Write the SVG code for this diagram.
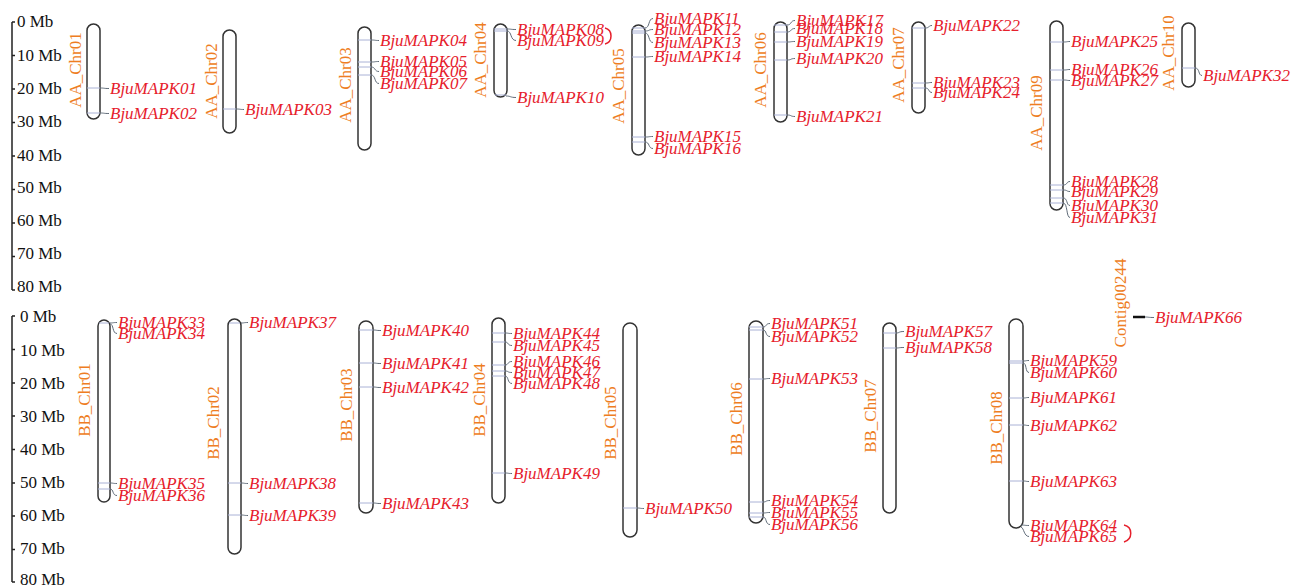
<svg xmlns="http://www.w3.org/2000/svg" width="1292" height="588" viewBox="0 0 1292 588">
<style>
.chr{fill:#fff;stroke:#333;stroke-width:1.5}
.band{stroke:#aab2d6;stroke-width:1}
.cl{font-family:"Liberation Serif",serif;font-size:17px;fill:#EE7D22;text-anchor:middle}
.g{font-family:"Liberation Serif",serif;font-style:italic;font-size:17px;fill:#E6202C}
.ax{font-family:"Liberation Serif",serif;font-size:17px;fill:#111}
.axl{stroke:#222;stroke-width:1.5;fill:none}
.cn{fill:none;stroke:#5f6b78;stroke-width:1}
.br{fill:none;stroke:#E6202C;stroke-width:1.5}
</style>
<rect width="1292" height="588" fill="#fff"/>
<g id="scale-top">
<path class="axl" d="M12,22V290M12,22h3M12,55.5h3M12,89h3M12,122.5h3M12,156h3M12,189.5h3M12,223h3M12,256.5h3M12,290h3"/>
<text class="ax" x="17" y="27">0 Mb</text>
<text class="ax" x="17" y="61">10 Mb</text>
<text class="ax" x="17" y="94">20 Mb</text>
<text class="ax" x="17" y="127">30 Mb</text>
<text class="ax" x="17" y="161">40 Mb</text>
<text class="ax" x="17" y="193">50 Mb</text>
<text class="ax" x="17" y="226">60 Mb</text>
<text class="ax" x="17" y="259">70 Mb</text>
<text class="ax" x="17" y="292">80 Mb</text>
</g>
<g id="scale-bottom">
<path class="axl" d="M12,316V582M12,316h3M12,349.5h3M12,383h3M12,416h3M12,449.5h3M12,483h3M12,516h3M12,549.5h3M12,582h3"/>
<text class="ax" x="20" y="322">0 Mb</text>
<text class="ax" x="20" y="356">10 Mb</text>
<text class="ax" x="20" y="389">20 Mb</text>
<text class="ax" x="20" y="422">30 Mb</text>
<text class="ax" x="20" y="455">40 Mb</text>
<text class="ax" x="20" y="488">50 Mb</text>
<text class="ax" x="20" y="521">60 Mb</text>
<text class="ax" x="20" y="554">70 Mb</text>
<text class="ax" x="20" y="585">80 Mb</text>
</g>

<g id="AA_Chr01"><rect class="chr" x="87" y="24" width="13" height="95" rx="6.5"/>
<path class="band" d="M87,88h13M87,113h13"/>
<text class="cl" transform="translate(81,70) rotate(-90)">AA_Chr01</text></g>
<g id="AA_Chr02"><rect class="chr" x="223" y="30" width="13" height="103" rx="6.5"/>
<path class="band" d="M223,109h13"/>
<text class="cl" transform="translate(217,81) rotate(-90)">AA_Chr02</text></g>
<g id="AA_Chr03"><rect class="chr" x="358" y="27" width="13" height="123" rx="6.5"/>
<path class="band" d="M358,40h13M358,62h13M358,67h13M358,75h13"/>
<text class="cl" transform="translate(351,85) rotate(-90)">AA_Chr03</text></g>
<g id="AA_Chr04"><rect class="chr" x="494" y="24" width="13" height="73" rx="6.5"/>
<path class="band" d="M494,29h13M494,31h13M495,95h11"/>
<text class="cl" transform="translate(486,60) rotate(-90)">AA_Chr04</text></g>
<g id="AA_Chr05"><rect class="chr" x="632" y="25" width="13" height="130" rx="6.5"/>
<path class="band" d="M632,28h13M632,31h13M632,33h13M632,57h13M632,137h13M632,142h13"/>
<text class="cl" transform="translate(624,86) rotate(-90)">AA_Chr05</text></g>
<g id="AA_Chr06"><rect class="chr" x="774" y="22" width="13" height="100" rx="6.5"/>
<path class="band" d="M774,25h13M774,32h13M774,42h13M774,60h13M774,115h13"/>
<text class="cl" transform="translate(766,70) rotate(-90)">AA_Chr06</text></g>
<g id="AA_Chr07"><rect class="chr" x="912" y="22" width="13" height="91" rx="6.5"/>
<path class="band" d="M912,28h13M912,83h13M912,88h13"/>
<text class="cl" transform="translate(904,65) rotate(-90)">AA_Chr07</text></g>
<g id="AA_Chr09"><rect class="chr" x="1050" y="21" width="13" height="189" rx="6.5"/>
<path class="band" d="M1050,42h13M1050,70h13M1050,80h13M1050,185h13M1050,190h13M1050,198h13M1050,203h13"/>
<text class="cl" transform="translate(1042,113) rotate(-90)">AA_Chr09</text></g>
<g id="AA_Chr10"><rect class="chr" x="1182" y="23" width="13" height="64" rx="6.5"/>
<path class="band" d="M1182,68h13"/>
<text class="cl" transform="translate(1174,53) rotate(-90)">AA_Chr10</text></g>

<g id="BB_Chr01"><rect class="chr" x="98" y="320" width="12" height="182" rx="6"/>
<path class="band" d="M99,323h10M98,483h12M98,489h12"/>
<text class="cl" transform="translate(90,400) rotate(-90)">BB_Chr01</text></g>
<g id="BB_Chr02"><rect class="chr" x="228" y="319" width="13" height="235" rx="6.5"/>
<path class="band" d="M229,323h11M228,483h13M228,515h13"/>
<text class="cl" transform="translate(219,423) rotate(-90)">BB_Chr02</text></g>
<g id="BB_Chr03"><rect class="chr" x="359" y="321" width="14" height="192" rx="7"/>
<path class="band" d="M359,330h14M359,363h14M359,387h14M359,503h14"/>
<text class="cl" transform="translate(352,405) rotate(-90)">BB_Chr03</text></g>
<g id="BB_Chr04"><rect class="chr" x="492" y="318" width="13" height="185" rx="6.5"/>
<path class="band" d="M492,333h13M492,342h13M492,365h13M492,371h13M492,376h13M492,473h13"/>
<text class="cl" transform="translate(485,400) rotate(-90)">BB_Chr04</text></g>
<g id="BB_Chr05"><rect class="chr" x="623" y="323" width="14" height="214" rx="7"/>
<path class="band" d="M623,508h14"/>
<text class="cl" transform="translate(616,423) rotate(-90)">BB_Chr05</text></g>
<g id="BB_Chr06"><rect class="chr" x="749" y="321" width="14" height="202" rx="7"/>
<path class="band" d="M749,327h14M749,330h14M749,379h14M749,502h14M749,513h14M749,517h14"/>
<text class="cl" transform="translate(742,419) rotate(-90)">BB_Chr06</text></g>
<g id="BB_Chr07"><rect class="chr" x="883" y="323" width="13" height="190" rx="6.5"/>
<path class="band" d="M883,333h13M883,348h13"/>
<text class="cl" transform="translate(876,416) rotate(-90)">BB_Chr07</text></g>
<g id="BB_Chr08"><rect class="chr" x="1009" y="319" width="14" height="209" rx="7"/>
<path class="band" d="M1009,361h14M1009,363h14M1009,398h14M1009,425h14M1009,481h14"/>
<text class="cl" transform="translate(1002,428) rotate(-90)">BB_Chr08</text></g>
<g id="Contig00244"><path d="M1133,317H1145" stroke="#111" stroke-width="2.5"/>
<text class="cl" transform="translate(1126,303) rotate(-90)">Contig00244</text></g>

<g id="connectors">
<path class="cn" d="M100,88C105,88 103,88.5 109,88.5M100,113C105,113 103,113.5 109,113.5"/>
<path class="cn" d="M236,109C241,109 239,109.5 244,109.5"/>
<path class="cn" d="M371,40C376,40 374,40.5 379,40.5M371,62C376,62 374,61.5 379,61.5M371,67C376,67 374,71.5 379,71.5M371,75C376,75 374,83.5 379,83.5"/>
<path class="cn" d="M507,29C512,29 510,29.5 516,29.5M507,31C512,31 510,40.5 516,40.5M506,96C511,96 510,97.5 516,97.5"/>
<path class="cn" d="M645,28C650,28 648,18.5 653,18.5M645,31C650,31 648,29.5 653,29.5M645,33C650,33 648,42.5 653,42.5M645,57C650,57 648,56.5 653,56.5M645,137C650,137 648,136.5 653,136.5M645,142C650,142 648,148.5 653,148.5"/>
<path class="cn" d="M787,25C792,25 790,20.5 795,20.5M787,32C792,32 790,28.5 795,28.5M787,42C792,42 790,41.5 795,41.5M787,60C792,60 790,58.5 795,58.5M787,115C792,115 790,116.5 795,116.5"/>
<path class="cn" d="M925,28C930,28 928,25.5 932,25.5M925,83C930,83 928,82.5 932,82.5M925,88C930,88 928,92.5 932,92.5"/>
<path class="cn" d="M1063,42C1068,42 1066,41.5 1070,41.5M1063,70C1068,70 1066,69.5 1070,69.5M1063,80C1068,80 1066,80.5 1070,80.5M1063,185C1068,185 1066,181.5 1070,181.5M1063,190C1068,190 1066,191.5 1070,191.5M1063,198C1068,198 1066,205.5 1070,205.5M1063,203C1068,203 1066,217.5 1070,217.5"/>
<path class="cn" d="M1195,68C1200,68 1198,75.5 1202,75.5"/>
<path class="cn" d="M110,323C114,323 112,322.5 117,322.5M110,324C114,324 112,333.5 117,333.5M110,483C114,483 112,483.5 117,483.5M110,489C114,489 112,495.5 117,495.5"/>
<path class="cn" d="M241,323C245,323 243,322.5 248,322.5M241,483C245,483 243,483.5 248,483.5M241,515C245,515 243,515.5 248,515.5"/>
<path class="cn" d="M373,330C377,330 375,330.5 381,330.5M373,363C377,363 375,363.5 381,363.5M373,387C377,387 375,387.5 381,387.5M373,503C377,503 375,503.5 381,503.5"/>
<path class="cn" d="M505,333C509,333 507,333.5 512,333.5M505,342C509,342 507,345.5 512,345.5M505,365C509,365 507,361.5 512,361.5M505,371C509,371 507,372.5 512,372.5M505,376C509,376 507,383.5 512,383.5M505,473C509,473 507,473.5 512,473.5"/>
<path class="cn" d="M637,508C641,508 639,508.5 644,508.5"/>
<path class="cn" d="M763,327C767,327 765,323.5 770,323.5M763,330C767,330 765,336.5 770,336.5M763,379C767,379 765,378.5 770,378.5M763,502C767,502 765,500.5 770,500.5M763,513C767,513 765,512.5 770,512.5M763,517C767,517 765,524.5 770,524.5"/>
<path class="cn" d="M896,333C900,333 898,331.5 904,331.5M896,348C900,348 898,347.5 904,347.5"/>
<path class="cn" d="M1023,361C1027,361 1025,360.5 1029,360.5M1023,363C1027,363 1025,372.5 1029,372.5M1023,398C1027,398 1025,397.5 1029,397.5M1023,425C1027,425 1025,425.5 1029,425.5M1023,481C1027,481 1025,481.5 1029,481.5M1021,525C1025,525 1024,525.5 1029,525.5M1021,527C1024,528 1024,536.5 1029,536.5"/>
<path class="cn" d="M1145,317C1149,317 1148,317.5 1154,317.5"/>
<path class="br" d="M605,28C613,30 613,42 605,44"/>
<path class="br" d="M1124,525C1133,527 1133,539 1124,542"/>
</g>

<g id="genes">
<text class="g" x="110" y="94">BjuMAPK01</text>
<text class="g" x="110" y="119">BjuMAPK02</text>
<text class="g" x="245" y="115">BjuMAPK03</text>
<text class="g" x="380" y="46">BjuMAPK04</text>
<text class="g" x="380" y="67">BjuMAPK05</text>
<text class="g" x="380" y="77">BjuMAPK06</text>
<text class="g" x="380" y="89">BjuMAPK07</text>
<text class="g" x="517" y="35">BjuMAPK08</text>
<text class="g" x="517" y="46">BjuMAPK09</text>
<text class="g" x="517" y="103">BjuMAPK10</text>
<text class="g" x="654" y="24">BjuMAPK11</text>
<text class="g" x="654" y="35">BjuMAPK12</text>
<text class="g" x="654" y="48">BjuMAPK13</text>
<text class="g" x="654" y="62">BjuMAPK14</text>
<text class="g" x="654" y="142">BjuMAPK15</text>
<text class="g" x="654" y="154">BjuMAPK16</text>
<text class="g" x="796" y="26">BjuMAPK17</text>
<text class="g" x="796" y="34">BjuMAPK18</text>
<text class="g" x="796" y="47">BjuMAPK19</text>
<text class="g" x="796" y="64">BjuMAPK20</text>
<text class="g" x="796" y="122">BjuMAPK21</text>
<text class="g" x="933" y="31">BjuMAPK22</text>
<text class="g" x="933" y="88">BjuMAPK23</text>
<text class="g" x="933" y="98">BjuMAPK24</text>
<text class="g" x="1071" y="47">BjuMAPK25</text>
<text class="g" x="1071" y="75">BjuMAPK26</text>
<text class="g" x="1071" y="86">BjuMAPK27</text>
<text class="g" x="1071" y="187">BjuMAPK28</text>
<text class="g" x="1071" y="197">BjuMAPK29</text>
<text class="g" x="1071" y="211">BjuMAPK30</text>
<text class="g" x="1071" y="223">BjuMAPK31</text>
<text class="g" x="1203" y="81">BjuMAPK32</text>
<text class="g" x="118" y="328">BjuMAPK33</text>
<text class="g" x="118" y="339">BjuMAPK34</text>
<text class="g" x="118" y="489">BjuMAPK35</text>
<text class="g" x="118" y="501">BjuMAPK36</text>
<text class="g" x="249" y="328">BjuMAPK37</text>
<text class="g" x="249" y="489">BjuMAPK38</text>
<text class="g" x="249" y="521">BjuMAPK39</text>
<text class="g" x="382" y="336">BjuMAPK40</text>
<text class="g" x="382" y="369">BjuMAPK41</text>
<text class="g" x="382" y="393">BjuMAPK42</text>
<text class="g" x="382" y="509">BjuMAPK43</text>
<text class="g" x="513" y="339">BjuMAPK44</text>
<text class="g" x="513" y="351">BjuMAPK45</text>
<text class="g" x="513" y="367">BjuMAPK46</text>
<text class="g" x="513" y="378">BjuMAPK47</text>
<text class="g" x="513" y="389">BjuMAPK48</text>
<text class="g" x="513" y="479">BjuMAPK49</text>
<text class="g" x="645" y="514">BjuMAPK50</text>
<text class="g" x="771" y="329">BjuMAPK51</text>
<text class="g" x="771" y="342">BjuMAPK52</text>
<text class="g" x="771" y="384">BjuMAPK53</text>
<text class="g" x="771" y="506">BjuMAPK54</text>
<text class="g" x="771" y="518">BjuMAPK55</text>
<text class="g" x="771" y="530">BjuMAPK56</text>
<text class="g" x="905" y="337">BjuMAPK57</text>
<text class="g" x="905" y="353">BjuMAPK58</text>
<text class="g" x="1030" y="366">BjuMAPK59</text>
<text class="g" x="1030" y="378">BjuMAPK60</text>
<text class="g" x="1030" y="403">BjuMAPK61</text>
<text class="g" x="1030" y="431">BjuMAPK62</text>
<text class="g" x="1030" y="487">BjuMAPK63</text>
<text class="g" x="1030" y="531">BjuMAPK64</text>
<text class="g" x="1030" y="542">BjuMAPK65</text>
<text class="g" x="1155" y="323">BjuMAPK66</text>
</g>
</svg>
